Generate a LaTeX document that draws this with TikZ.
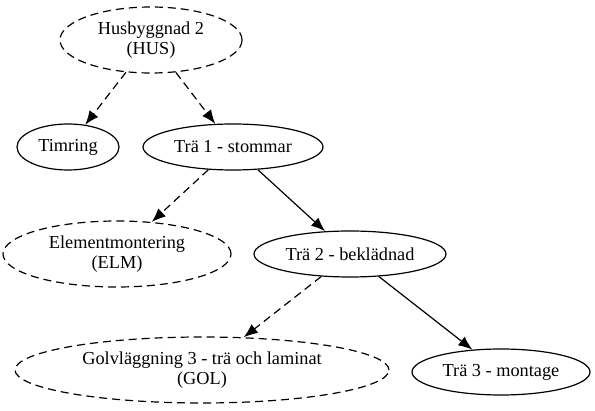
\documentclass[tikz,border=0pt]{standalone}
\usepackage{fontspec}
\setmainfont{Liberation Serif}
\usetikzlibrary{arrows.meta,shapes.geometric}
\tikzset{%
	task/.style     = {draw, ellipse, inner sep=0pt, line width=1.2pt, minimum height=46pt, align=center, font=\fontsize{18.3}{20.5}\selectfont},
	optional/.style = {task, dashed, dash pattern=on 8pt off 5pt, minimum height=66pt},
	dep/.style      = {line width=1.2pt, -{Latex[length=14pt,width=11pt]}},
	optdep/.style   = {dep, dash pattern=on 8pt off 5pt},
}

\begin{document}
\begin{tikzpicture}[x=1pt,y=-1pt]
	\useasboundingbox (0,0) rectangle (595,411);
	\node [optional,minimum width=182pt] (hus) at (151,40) {Husbyggnad 2\\(HUS)};
	\node [task,minimum width=102pt] (timring) at (68,147) {Timring};
	\node [task,minimum width=180pt] (tra1) at (233,147) {Trä 1 - stommar};
	\node [optional,minimum width=228pt] (elm) at (117,254) {Elementmontering\\(ELM)};
	\node [task,minimum width=192pt] (tra2) at (350,254) {Trä 2 - beklädnad};
	\node [optional,minimum width=374pt] (gol) at (202,370) {Golvläggning 3 - trä och laminat\\(GOL)};
	\node [task,minimum width=178pt] (tra3) at (501,372) {Trä 3 - montage};
	
	\draw[optdep] (hus) -- (timring);
	\draw[optdep] (hus) -- (tra1);
	\draw[optdep] (tra1) -- (elm);
	\draw[dep] (tra1) -- (tra2);
	\draw[optdep] (tra2) -- (gol);
	\draw[dep] (tra2) -- (tra3);
\end{tikzpicture}
\end{document}
